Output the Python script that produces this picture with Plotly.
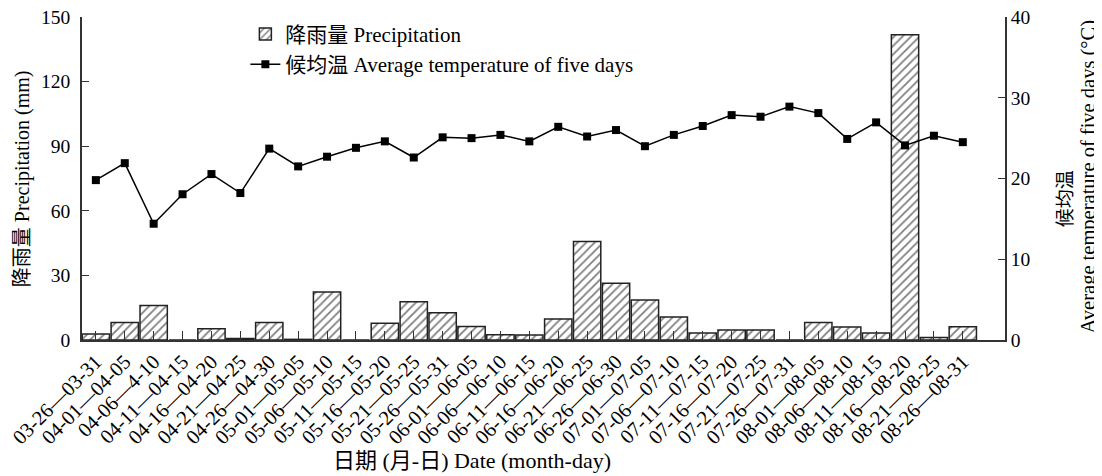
import plotly.graph_objects as go

periods = ["03-26—03-31", "04-01—04-05", "04-06—4-10", "04-11—04-15", "04-16—04-20",
           "04-21—04-25", "04-26—04-30", "05-01—05-05", "05-06—05-10", "05-11—05-15",
           "05-16—05-20", "05-21—05-25", "05-26—05-31", "06-01—06-05", "06-06—06-10",
           "06-11—06-15", "06-16—06-20", "06-21—06-25", "06-26—06-30", "07-01—07-05",
           "07-06—07-10", "07-11—07-15", "07-16—07-20", "07-21—07-25", "07-26—07-31",
           "08-01—08-05", "08-06—08-10", "08-11—08-15", "08-16—08-20", "08-21—08-25",
           "08-26—08-31"]

precipitation = [2.8, 8.1, 16.0, 0.0, 5.2, 0.7, 8.1, 0.3, 22.3, 0.0,
                 7.8, 17.8, 12.7, 6.3, 2.4, 2.3, 9.8, 45.7, 26.4, 18.6,
                 10.7, 3.2, 4.7, 4.7, 0.0, 8.1, 6.0, 3.2, 141.7, 1.2, 6.2]

temperature = [19.8, 21.9, 14.4, 18.05, 20.55, 18.2, 23.7, 21.5, 22.7, 23.8,
               24.6, 22.6, 25.1, 25.0, 25.4, 24.6, 26.4, 25.2, 26.0, 24.0,
               25.4, 26.5, 27.85, 27.65, 28.9, 28.1, 24.9, 26.95, 24.1, 25.3, 24.5]

FONT = "Liberation Serif, Times New Roman, Noto Sans CJK SC, serif"
AX = "#333333"

fig = go.Figure()
fig.add_trace(go.Bar(
    x=periods, y=precipitation, name="降雨量 Precipitation",
    marker=dict(color="white", line=dict(color="#222222", width=1.5),
                pattern=dict(shape="/", fgcolor="black", bgcolor="white",
                             size=6, solidity=0.3)),
    legendgroup="a", yaxis="y",
))
fig.add_trace(go.Scatter(
    x=periods, y=temperature, name="候均温 Average temperature of five days",
    mode="lines+markers", line=dict(color="black", width=1.5),
    marker=dict(symbol="square", size=8, color="black"),
    legendgroup="b", yaxis="y2",
))

fig.update_layout(
    width=1094, height=468,
    margin=dict(l=74, r=97, t=9, b=136, autoexpand=False),
    paper_bgcolor="white", plot_bgcolor="white",
    font=dict(family=FONT, size=19, color="black"),
    bargap=0.055,
    showlegend=True,
    legend=dict(x=0.177, y=1.01, xanchor="left", yanchor="top",
                bgcolor="rgba(0,0,0,0)", font=dict(size=21, family=FONT),
                tracegroupgap=0, itemwidth=30),
    xaxis=dict(type="category", range=[-0.48, 31.46], showline=True,
               linecolor=AX, linewidth=1.5, ticks="inside", ticklen=9,
               tickcolor=AX, tickwidth=1, tickangle=-45, showgrid=False,
               tickfont=dict(size=20.5), zeroline=False, automargin=False,
               ticklabeloverflow="allow"),
    yaxis=dict(range=[0, 150], dtick=30, showline=True, linecolor=AX,
               linewidth=1.5, ticks="inside", ticklen=7, tickcolor=AX,
               showgrid=False, zeroline=False, tickfont=dict(size=19.5),
               ticklabelstandoff=6, automargin=False, ticklabeloverflow="allow"),
    yaxis2=dict(range=[0, 40], dtick=10, overlaying="y", side="right",
                showline=True, linecolor=AX, linewidth=1.5, ticks="inside",
                ticklen=7, tickcolor=AX, showgrid=False, zeroline=False,
                tickfont=dict(size=19.5), automargin=False, ticklabeloverflow="allow"),
    annotations=[
        dict(text="降雨量 Precipitation (mm)", xref="paper", yref="paper",
             x=-0.065, y=0.498, textangle=-90, showarrow=False,
             xanchor="center", yanchor="middle", font=dict(size=20)),
        dict(text="候均温", xref="paper", yref="paper",
             x=1.0655, y=0.437, textangle=-90, showarrow=False,
             xanchor="center", yanchor="middle", font=dict(size=19)),
        dict(text="Average temperature of five days (°C)", xref="paper", yref="paper",
             x=1.0905, y=0.505, textangle=-90, showarrow=False,
             xanchor="center", yanchor="middle", font=dict(size=20.5)),
        dict(text="日期 (月-日) Date (month-day)", xref="paper", yref="paper",
             x=0.4225, y=-0.372, showarrow=False,
             xanchor="center", yanchor="middle", font=dict(size=22)),
    ],
)

fig.write_html("out.html")
